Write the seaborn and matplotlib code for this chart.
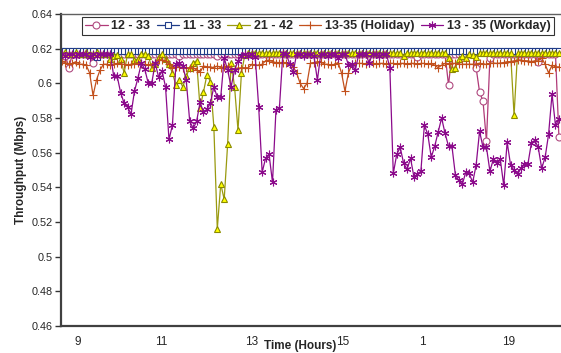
import numpy as np
import pandas as pd
import matplotlib
matplotlib.use("Agg")
import matplotlib.pyplot as plt
import seaborn as sns

# sample index (categorical time axis) and tick labels
tick_pos = [4.6, 28.7, 54.8, 81.4, 104.3, 129.3]
tick_labels = ["9", "11", "13", "15", "1", "19"]

s_12_33 = [
    0.614, 0.616, 0.609, 0.617, 0.617, 0.617, 0.617, 0.617, 0.617, 0.612,
    0.617, 0.617, 0.617, 0.617, 0.617, 0.617, 0.617, 0.617, 0.617, 0.617,
    0.617, 0.617, 0.617, 0.617, 0.617, 0.617, 0.617, 0.617, 0.617, 0.617,
    0.617, 0.617, 0.617, 0.617, 0.616, 0.617, 0.617, 0.617, 0.617, 0.617,
    0.617, 0.617, 0.617, 0.617, 0.617, 0.616, 0.617, 0.617, 0.617, 0.617,
    0.617, 0.617, 0.617, 0.617, 0.617, 0.617, 0.617, 0.617, 0.617, 0.617,
    0.617, 0.617, 0.617, 0.617, 0.617, 0.617, 0.617, 0.617, 0.617, 0.617,
    0.617, 0.617, 0.617, 0.617, 0.617, 0.617, 0.617, 0.617, 0.617, 0.617,
    0.617, 0.617, 0.617, 0.617, 0.617, 0.617, 0.617, 0.617, 0.617, 0.617,
    0.617, 0.617, 0.617, 0.617, 0.617, 0.617, 0.617, 0.617, 0.617, 0.617,
    0.617, 0.617, 0.617, 0.615, 0.617, 0.617, 0.617, 0.617, 0.617, 0.617,
    0.617, 0.617, 0.599, 0.617, 0.617, 0.617, 0.617, 0.617, 0.617, 0.617,
    0.609, 0.595, 0.5897, 0.5666, 0.6146, 0.617, 0.617, 0.617, 0.617, 0.617,
    0.617, 0.617, 0.617, 0.617, 0.617, 0.617, 0.617, 0.617, 0.6125, 0.617,
    0.617, 0.617, 0.617, 0.617, 0.569,
]

s_11_33 = [
    0.6185, 0.6185, 0.6185, 0.6185, 0.6185, 0.6185, 0.6185, 0.6185, 0.6185, 0.6185,
    0.615, 0.6185, 0.6185, 0.6185, 0.6185, 0.6185, 0.6185, 0.6185, 0.6185, 0.6185,
    0.6185, 0.6185, 0.6185, 0.6185, 0.6185, 0.6185, 0.6185, 0.6185, 0.6185, 0.6185,
    0.6185, 0.6185, 0.6185, 0.6185, 0.6185, 0.6185, 0.6185, 0.6185, 0.6185, 0.6185,
    0.6185, 0.6185, 0.6185, 0.6185, 0.6185, 0.6185, 0.6185, 0.6185, 0.6185, 0.6185,
    0.6185, 0.6185, 0.6185, 0.6185, 0.6185, 0.6185, 0.6185, 0.6185, 0.6185, 0.6185,
    0.6185, 0.6185, 0.6185, 0.6185, 0.6185, 0.6185, 0.6185, 0.6185, 0.6185, 0.6185,
    0.6185, 0.6185, 0.6185, 0.6185, 0.6185, 0.6185, 0.6185, 0.6185, 0.6185, 0.6185,
    0.6185, 0.6185, 0.6185, 0.6185, 0.6185, 0.6185, 0.6185, 0.6185, 0.6185, 0.6185,
    0.6185, 0.6185, 0.6185, 0.6185, 0.6185, 0.6185, 0.6185, 0.6185, 0.6185, 0.6185,
    0.6185, 0.6185, 0.6185, 0.6185, 0.6185, 0.6185, 0.6185, 0.6185, 0.6185, 0.6185,
    0.6185, 0.6185, 0.6185, 0.6185, 0.6185, 0.6185, 0.6185, 0.6185, 0.6185, 0.6185,
    0.6185, 0.6185, 0.6185, 0.6185, 0.6185, 0.6185, 0.6185, 0.6185, 0.6185, 0.6185,
    0.6185, 0.6185, 0.6185, 0.6185, 0.6185, 0.6185, 0.6185, 0.6185, 0.6185, 0.6185,
    0.6185, 0.6185, 0.6185, 0.6185, 0.6185,
]

s_21_42 = [
    0.617, 0.618, 0.617, 0.617, 0.618, 0.617, 0.617, 0.618, 0.617, 0.617,
    0.618, 0.617, 0.617, 0.617, 0.614, 0.616, 0.6165, 0.614, 0.606, 0.617,
    0.617, 0.6135, 0.614, 0.617, 0.617, 0.616, 0.609, 0.611, 0.615, 0.617,
    0.614, 0.611, 0.606, 0.599, 0.602, 0.598, 0.604, 0.609, 0.612, 0.613,
    0.586, 0.595, 0.605, 0.601, 0.575, 0.516, 0.542, 0.533, 0.565, 0.612,
    0.598, 0.573, 0.606, 0.6165, 0.6175, 0.6175, 0.6175, 0.6175, 0.6175, 0.6175,
    0.6175, 0.6175, 0.6175, 0.6175, 0.6175, 0.6175, 0.6175, 0.6175, 0.6175, 0.6175,
    0.6175, 0.6175, 0.6175, 0.6175, 0.6175, 0.6175, 0.6175, 0.6175, 0.6175, 0.6175,
    0.6175, 0.6175, 0.6175, 0.6175, 0.6175, 0.6175, 0.6175, 0.6175, 0.6175, 0.6175,
    0.6175, 0.6175, 0.6175, 0.6175, 0.6175, 0.6175, 0.6175, 0.6175, 0.6175, 0.616,
    0.6175, 0.6175, 0.6175, 0.6175, 0.6175, 0.6175, 0.6175, 0.6175, 0.6175, 0.6175,
    0.6175, 0.6175, 0.6145, 0.608, 0.609, 0.614, 0.616, 0.6145, 0.617, 0.6165,
    0.615, 0.6175, 0.6175, 0.6175, 0.6175, 0.6175, 0.6175, 0.6175, 0.6175, 0.6175,
    0.6175, 0.5816, 0.6175, 0.6175, 0.6175, 0.6175, 0.6175, 0.6175, 0.6175, 0.6175,
    0.6175, 0.6175, 0.6175, 0.6175, 0.6175,
]

s_holiday = [
    0.613, 0.612, 0.611, 0.6115, 0.6125, 0.611, 0.611, 0.6105, 0.606, 0.593,
    0.602, 0.6076, 0.611, 0.611, 0.6105, 0.611, 0.6115, 0.611, 0.611, 0.6105,
    0.611, 0.611, 0.6115, 0.611, 0.611, 0.6105, 0.611, 0.612, 0.6137, 0.6135,
    0.613, 0.611, 0.609, 0.6095, 0.6095, 0.609, 0.609, 0.609, 0.609, 0.6077,
    0.6065, 0.610, 0.6095, 0.6095, 0.609, 0.610, 0.609, 0.6095, 0.610, 0.6085,
    0.6085, 0.6088, 0.609, 0.609, 0.609, 0.611, 0.6105, 0.6105, 0.611, 0.613,
    0.6135, 0.6125, 0.612, 0.612, 0.612, 0.612, 0.611, 0.6095, 0.606, 0.600,
    0.597, 0.600, 0.6117, 0.612, 0.6125, 0.6125, 0.611, 0.611, 0.6105, 0.611,
    0.612, 0.606, 0.5955, 0.606, 0.611, 0.6115, 0.6115, 0.6115, 0.611, 0.6115,
    0.6115, 0.611, 0.6115, 0.6115, 0.611, 0.6115, 0.6115, 0.611, 0.6115, 0.6115,
    0.611, 0.6115, 0.6115, 0.611, 0.6115, 0.6115, 0.611, 0.6115, 0.6105, 0.609,
    0.6105, 0.6115, 0.611, 0.6115, 0.6115, 0.611, 0.611, 0.611, 0.611, 0.611,
    0.611, 0.6117, 0.611, 0.611, 0.6115, 0.6117, 0.6115, 0.6117, 0.612, 0.6125,
    0.6125, 0.613, 0.6135, 0.6135, 0.613, 0.613, 0.6125, 0.613, 0.613, 0.6146,
    0.611, 0.606, 0.6105, 0.6095, 0.6095,
]

s_workday = [
    0.617, 0.616, 0.617, 0.617, 0.616, 0.617, 0.617, 0.617, 0.615, 0.617,
    0.616, 0.617, 0.617, 0.617, 0.617, 0.604, 0.604, 0.5945, 0.5886, 0.5863,
    0.5822, 0.5955, 0.603, 0.6117, 0.608, 0.600, 0.600, 0.6117, 0.6036, 0.607,
    0.598, 0.5677, 0.5758, 0.611, 0.612, 0.610, 0.6018, 0.5782, 0.574, 0.578,
    0.589, 0.5834, 0.585, 0.5886, 0.598, 0.592, 0.592, 0.6146, 0.6076, 0.598,
    0.6076, 0.613, 0.616, 0.617, 0.616, 0.617, 0.615, 0.5863, 0.5487, 0.5568,
    0.559, 0.5429, 0.5845, 0.5857, 0.6175, 0.617, 0.611, 0.6065, 0.617, 0.617,
    0.616, 0.617, 0.617, 0.616, 0.6018, 0.617, 0.617, 0.616, 0.617, 0.617,
    0.6146, 0.617, 0.617, 0.6105, 0.611, 0.6076, 0.617, 0.617, 0.617, 0.6117,
    0.617, 0.617, 0.616, 0.617, 0.617, 0.609, 0.548, 0.559, 0.5631, 0.5538,
    0.5504, 0.5568, 0.5458, 0.5475, 0.5493, 0.5758, 0.5706, 0.5573, 0.5637, 0.5718,
    0.580, 0.5712, 0.5637, 0.5637, 0.547, 0.544, 0.5417, 0.5487, 0.548, 0.5429,
    0.5527, 0.5724, 0.5631, 0.5631, 0.5493, 0.5562, 0.5538, 0.5562, 0.5412, 0.566,
    0.5527, 0.5498, 0.5475, 0.551, 0.5533, 0.5533, 0.5654, 0.5671, 0.5631, 0.551,
    0.5573, 0.5706, 0.5938, 0.5758, 0.5793,
]

names = ["12 - 33", "11 - 33", "21 - 42", "13-35 (Holiday)", "13 - 35 (Workday)"]
series = [s_12_33, s_11_33, s_21_42, s_holiday, s_workday]

styles = {
    "12 - 33": dict(color="#B03A78", marker="o", mfc="white", mec="#B04A80", ms=5),
    "11 - 33": dict(color="#1F3C88", marker="s", mfc="white", mec="#1F3C88", ms=4.3),
    "21 - 42": dict(color="#9A9A10", marker="^", mfc="#FFFF00", mec="#8A8A00", ms=5),
    "13-35 (Holiday)": dict(color="#C2501C", marker="+", mfc="#C2501C", mec="#C2501C", ms=5.5),
    "13 - 35 (Workday)": dict(color="#8B0A8B", marker=(6, 2, 0), mfc="#8B0A8B", mec="#8B0A8B", ms=5.5),
}

sns.set_style("white")
plt.rcParams["font.family"] = ["Liberation Sans", "DejaVu Sans"]

fig = plt.figure(figsize=(5.61, 3.53), dpi=100)
ax = fig.add_axes([61 / 561, 1 - 326 / 353, 500 / 561, 312 / 353])

for n, s in zip(names, series):
    st = styles[n]
    sns.lineplot(x=np.arange(len(s)), y=s, ax=ax, label=n, color=st["color"],
                 linewidth=0.9, marker=st["marker"], markersize=st["ms"],
                 markerfacecolor=st["mfc"], markeredgecolor=st["mec"],
                 markeredgewidth=0.8)

ax.set_xlim(-0.29, 144.6)
ax.set_ylim(0.46, 0.64)
ax.set_yticks(np.arange(0.46, 0.6401, 0.02))
ax.set_yticklabels(["0.46", "0.48", "0.5", "0.52", "0.54", "0.56", "0.58", "0.6", "0.62", "0.64"])
ax.set_xticks(tick_pos)
ax.set_xticklabels(tick_labels)
ax.tick_params(axis="y", direction="out", length=4, width=1, color="#333333",
               labelsize=7.8, pad=2, left=True)
ax.tick_params(axis="x", length=0, labelsize=8.5, pad=7)

for side in ["left", "bottom"]:
    ax.spines[side].set_color("#404040")
    ax.spines[side].set_linewidth(1.6)
ax.spines["top"].set_color("#606060")
ax.spines["top"].set_linewidth(1.0)
ax.spines["right"].set_visible(False)

ax.set_xlabel("")
ax.set_ylabel("Throughput (Mbps)", fontsize=8.5, fontweight="bold", labelpad=3)
fig.text(300 / 561, 1 - 346 / 353, "Time (Hours)", fontsize=8.5, fontweight="bold",
         ha="center", va="center")

leg = ax.legend(loc="upper center", bbox_to_anchor=(0.514, 0.99), ncol=5,
                prop=dict(weight="bold", size=9), frameon=True, fancybox=False,
                edgecolor="black", handlelength=1.8, handletextpad=0.3,
                columnspacing=0.5, borderpad=0.25, borderaxespad=0)
leg.get_frame().set_linewidth(0.8)

fig.savefig("out.png", dpi=100)
